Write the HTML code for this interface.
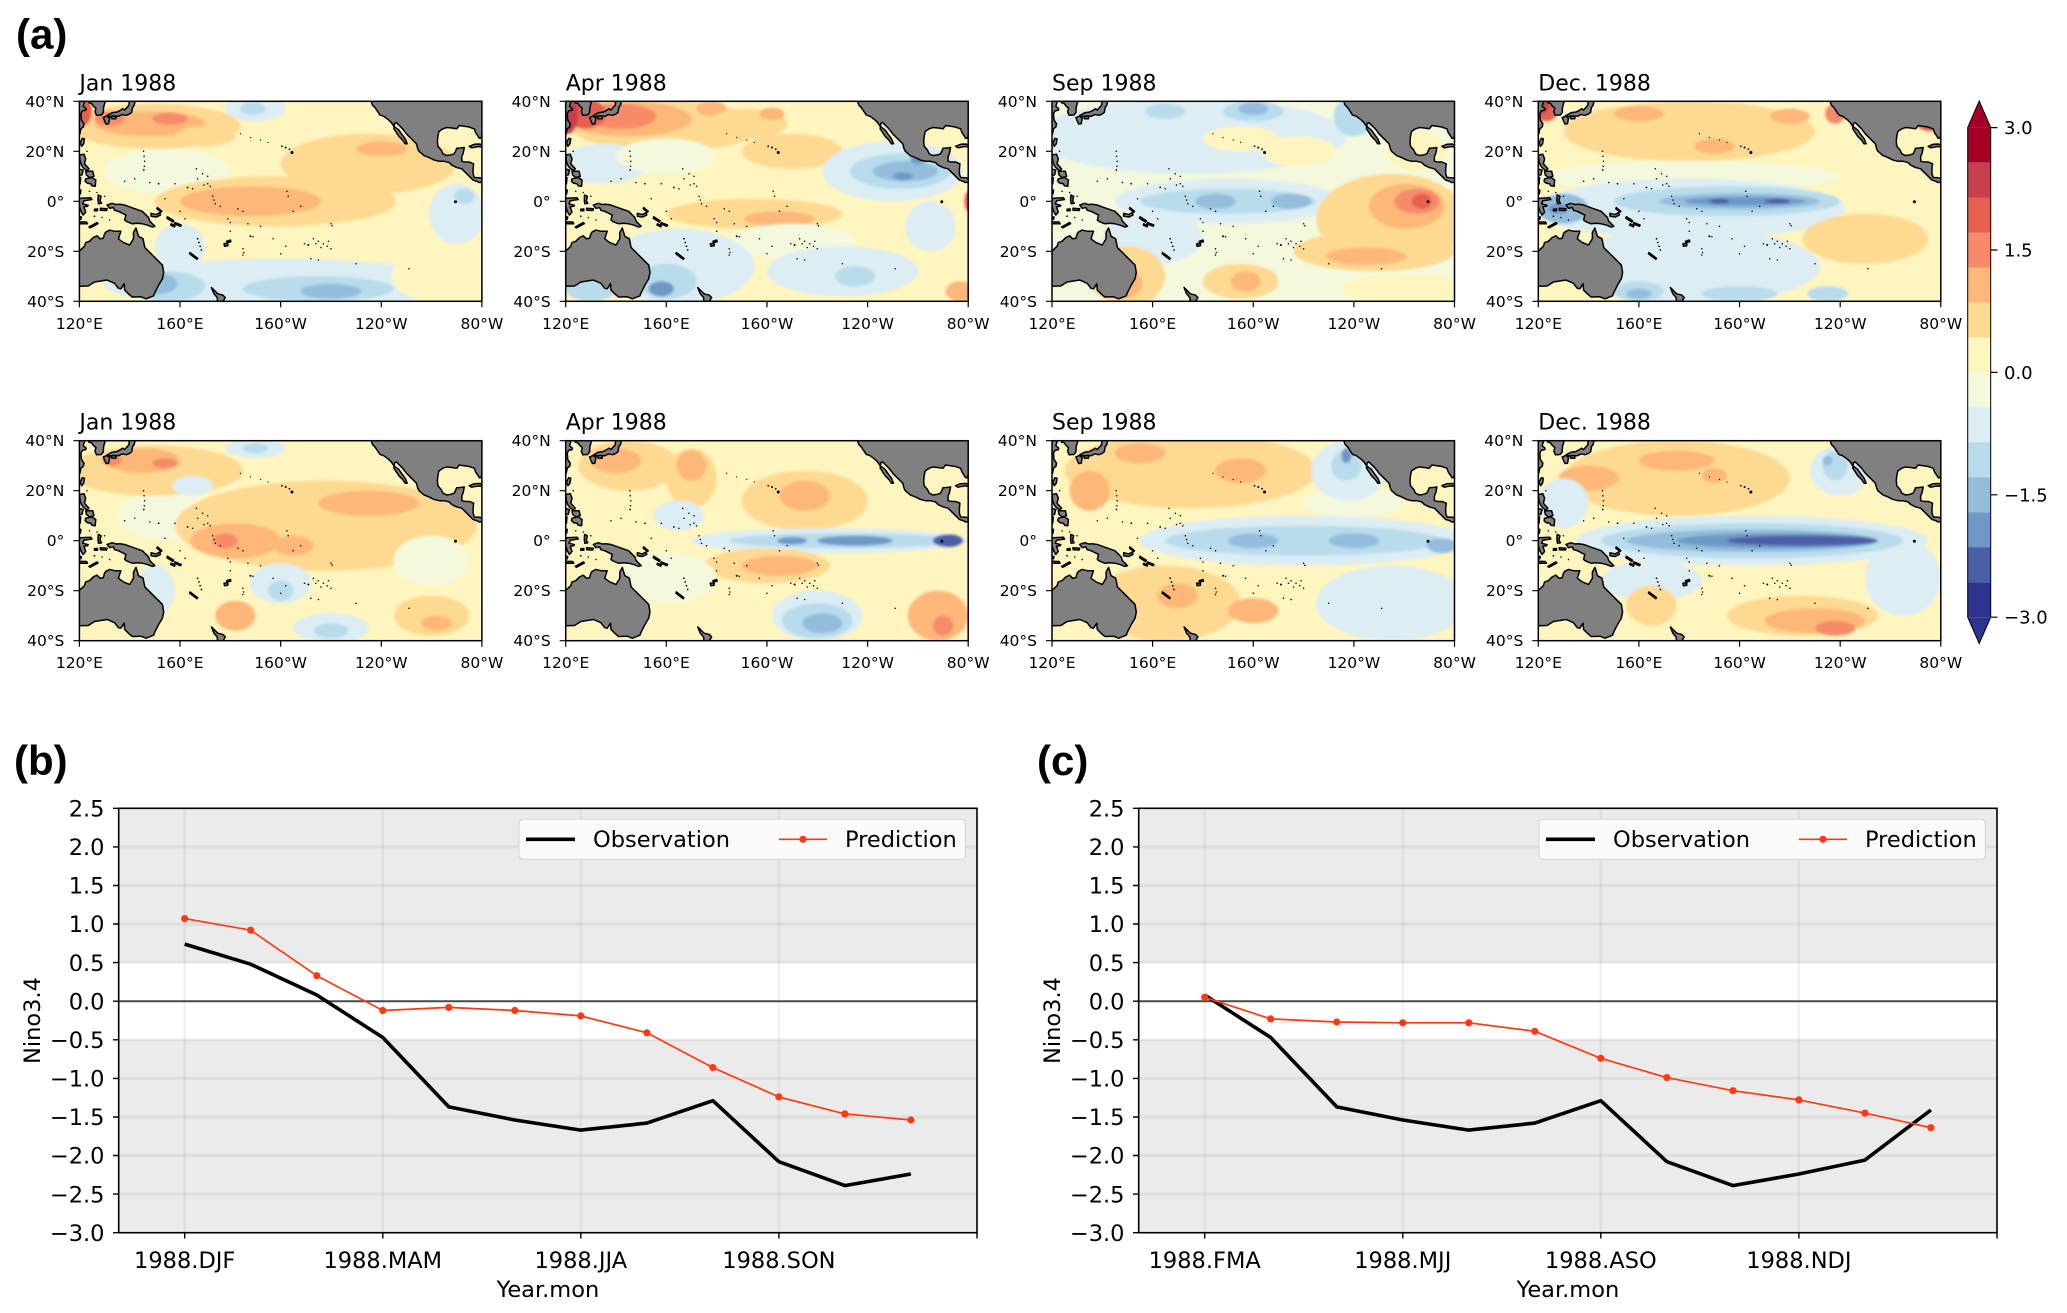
<!DOCTYPE html>
<html><head><meta charset="utf-8">
<style>
html,body{margin:0;padding:0;background:#fff;}
body{width:2067px;height:1313px;overflow:hidden;}
svg text{font-family:"DejaVu Sans","Liberation Sans",sans-serif;fill:#000;}
.r7{fill:#a50026}.r6{fill:#c8404f}.r5{fill:#e6604d}.r4{fill:#f78b69}.r3{fill:#fdb778}.r2{fill:#fed991}.r1{fill:#fff5bf}
.b1{fill:#f4f9dd}.b2{fill:#dcedf4}.b3{fill:#b8dcec}.b4{fill:#93bddb}.b5{fill:#6f98c6}.b6{fill:#4b5fa8}.b7{fill:#2f3390}
.tt{font-size:22px}
.lt{font-size:15.5px;text-anchor:end}
.lb{font-size:15.5px;text-anchor:middle}
.ytl{font-size:22.5px;text-anchor:end}
.xtl{font-size:22.5px;text-anchor:middle}
.lg{font-size:22.5px}
.pl{font-family:"Liberation Sans",sans-serif !important;font-weight:bold;font-size:42px}
.cb{font-size:18px}
</style></head>
<body>
<svg width="2067" height="1313" viewBox="0 0 2067 1313" xmlns="http://www.w3.org/2000/svg" style="position:absolute;left:0;top:0">
<defs>
<filter id="bl" x="-30%" y="-30%" width="160%" height="160%"><feGaussianBlur stdDeviation="0.5"/></filter>
<g id="land">
 <g fill="#808080" stroke="#000" stroke-width="0.6" stroke-linejoin="round">
  <path d="M-1,59.9 L0,59.9 L2,58 L2.5,56.5 L4,56 L5.5,54.5 L7,53.8 L8.2,55 L9.5,54.8 L10,53 L10.5,52.3 L12,51.5 L14,52 L16.5,52 L16,53.5 L15.5,55 L17.5,56.5 L20,57.5 L21.5,55 L21.5,52.5 L22.5,50.7 L23.5,54 L25.3,55 L26,58.5 L29,61.5 L31,63.5 L33,65.5 L33.5,68.5 L33,71 L31.5,73.5 L30,76.5 L29.5,77.8 L26.5,79 L24.5,78.2 L21,78.3 L19.5,77 L18,75.5 L17.8,73 L16.5,75 L15.5,74.8 L14,72.8 L11,71.5 L6,72.3 L3.5,73.9 L0,74 L-1,74 Z"/>
  <path d="M11,41.5 L13,40.8 L14.5,41.3 L16,41.2 L18,41.5 L21,42.6 L23,43.3 L25,44 L26.5,45.5 L27.5,46.5 L28,48 L30,50 L29,50.3 L27,49.5 L25,49 L23,48.8 L21,49 L19,48.2 L18,47.5 L18.5,45.5 L17.5,45 L15.5,44 L14,43.6 L13.5,42.5 L12,42.8 Z"/>
  <path d="M28.5,44.8 L30.5,45.3 L32,44.5 L32.2,45.5 L30.5,46.3 L28.5,46 Z"/>
  <path d="M31,42.5 L32.8,44 L32.5,44.3 L30.8,43 Z"/>
  <path d="M35,46.2 L37.5,47.8 L37.2,48.3 L34.8,46.8 Z"/>
  <path d="M38,48.5 L40.5,49.5 L40.2,50 L37.8,49 Z"/>
  <path d="M36.5,49 L38,49.8 L37.8,50.2 L36.3,49.5 Z"/>
  <path d="M44,60.5 L47,62.8 L46.7,63.2 L43.8,61 Z"/>
  <path d="M57.5,57 L59,56.8 L59,57.8 L57.7,58 Z"/>
  <path d="M58.5,56 L60,55.5 L60.2,56.2 L58.8,56.5 Z"/>
  <path d="M52.5,74.5 L54,76 L55,77 L57,77.5 L58,78.5 L56.5,81 L55,81 L54.8,78.5 L53.5,77 Z"/>
  <path d="M0,21.5 L1.8,21.2 L2.5,23 L2,25 L3.8,27 L3,27.8 L1.5,26.5 L0.8,25.5 L0.3,24 Z"/>
  <path d="M2.5,28 L5.3,28 L5.8,30 L4,30.5 L2.8,29.5 Z"/>
  <path d="M-0.5,27 L1.5,27.5 L1,29.5 L-0.5,29.5 Z"/>
  <path d="M2.5,31 L5,30.5 L6.5,31.5 L6.3,34 L5,33.8 L4.5,33 L3.2,32.8 L2.3,32 Z"/>
  <path d="M-1,40 L0.5,38.8 L4.5,38.6 L5,39.3 L1.8,39.8 L1.3,41 L3.5,41.6 L3.2,42 L1.8,42.2 L2.5,44.3 L1.5,45.5 L0.6,44 L0.2,42.5 L-0.5,44.5 L-1,45 Z"/>
  <path d="M7.5,37.5 L8.6,38 L8.2,39.8 L8.8,40.8 L7.6,41 L7.4,39.5 Z"/>
  <path d="M6,43.2 L7.2,43.1 L7.2,43.8 L6,43.8 Z"/>
  <path d="M8.3,42.8 L11,43 L10.8,43.7 L8.4,43.6 Z"/>
  <path d="M-1,48.2 L2.8,48.3 L3.2,49 L-1,49 Z"/>
  <path d="M3.8,50.3 L7,48.5 L7.4,48.9 L4.3,50.6 Z"/>
  <path d="M1.2,14.8 L2,15 L1.7,17 L0.9,18 L0.3,16.5 Z"/>
  <path d="M-1,30 L0.5,30.5 L0.3,33 L-1,34 Z"/>
  <path d="M-1,35 L0.6,35.5 L0.4,37 L-1,37.5 Z"/>
  <path d="M-1,46 L0.8,46.3 L0.6,47.2 L-1,47.4 Z"/>
  <path d="M-1,-1 L1.8,-1 L2,0.5 L1.5,2 L2.7,3 L2.5,3.6 L1.2,3.8 L0.6,5 L0.8,7.5 L1.8,9 L1.6,10.2 L0.6,11 L0.2,13 L-1,14 Z"/>
  <path d="M3.5,-1 L10.5,-1 L10,1 L9.6,2.5 L9.5,4.5 L8.7,5.5 L6.8,5.6 L6.2,4.2 L6.6,2.8 L5.5,1.8 L4.8,0.8 L3.8,0.6 Z"/>
  <path d="M9.5,6.5 L11,5.9 L12,6.8 L11.6,9 L10.6,9.1 L10.1,8 Z"/>
  <path d="M12.6,6.2 L14.6,5.7 L14.5,7 L12.9,7 Z"/>
  <path d="M11,5.7 L13,4.6 L15,4.3 L16.5,3.5 L17.2,3 L18,3.5 L19.7,1.6 L19.9,-1 L22.3,-1 L21.8,1.5 L21.1,2.5 L20.8,4.4 L19.9,5.1 L18.6,5.6 L17,5.3 L15.5,6 L13.6,5.9 L12,6.1 Z"/>
  <path d="M114.5,-1 L115.5,-1 L116,0 L116.5,1.5 L117.5,2.5 L118.5,4 L119.5,5.5 L121,6 L123,7.5 L124,8.5 L125,10 L127,11.5 L128,13 L129.5,15 L130.3,17 L129.5,17 L128.5,15.5 L127,14 L125.7,12 L125,11 L125.3,8.8 L126,8.5 L127,9.5 L128.5,11 L130,13 L131,14 L132.5,15.5 L134,17 L134.5,19 L135,20 L137,21.7 L139,22.5 L141,23.5 L143,24 L145,24 L147,24.5 L148,25.5 L150,26.5 L152,27 L153.5,28.5 L154.5,29.5 L155,30 L156.5,31.5 L158,32 L159,32.5 L161,32.3 L161,31 L159,30.6 L157,30.5 L156.5,29 L156.5,27 L156.7,25 L155,24.3 L153.5,24.3 L152,24 L152,22 L152.5,21 L153,18.5 L151.5,18.7 L150,18.8 L149.5,20 L149,21 L147.5,21.5 L146,21.7 L144.5,21 L143.8,19.5 L142.5,18 L142.3,16 L142.5,14 L142.8,12.5 L143,12 L144.5,11 L146,10.5 L148,10.7 L150,11 L151,9.7 L153,10 L155,10.3 L156,10.7 L157,11 L157.5,12.5 L158.5,14 L159,14.8 L159.7,14.8 L160,13.5 L161,13 L161,-1 Z"/>
  <path d="M155,18 L157,17.2 L159,17.1 L161,17.6 L161,18.3 L158.5,18.1 L156,18.6 Z"/>
 </g>
 <g fill="#000">
  <circle cx="149.5" cy="40.2" r="0.6"/><circle cx="80.5" cy="18" r="0.35"/><circle cx="82" cy="18.5" r="0.4"/><circle cx="83.5" cy="19.2" r="0.35"/><circle cx="84.5" cy="20.5" r="0.6"/>
  <circle cx="75" cy="16.5" r="0.25"/><circle cx="72" cy="15.5" r="0.25"/><circle cx="68" cy="14.5" r="0.25"/><circle cx="64" cy="13" r="0.25"/>
  <circle cx="25.5" cy="20" r="0.3"/><circle cx="25.7" cy="22" r="0.3"/><circle cx="25.9" cy="24" r="0.3"/><circle cx="25.8" cy="26" r="0.3"/><circle cx="25.6" cy="27.5" r="0.35"/>
  <circle cx="18" cy="32" r="0.3"/><circle cx="22" cy="31" r="0.3"/><circle cx="28" cy="32.5" r="0.3"/><circle cx="31.5" cy="33" r="0.35"/><circle cx="38" cy="33" r="0.3"/><circle cx="43" cy="34.5" r="0.35"/><circle cx="45" cy="35" r="0.3"/>
  <circle cx="47" cy="31" r="0.3"/><circle cx="49" cy="29" r="0.3"/><circle cx="51" cy="30" r="0.3"/><circle cx="51" cy="33" r="0.3"/><circle cx="52" cy="34" r="0.3"/><circle cx="49.5" cy="33.5" r="0.3"/><circle cx="46.5" cy="27" r="0.3"/>
  <circle cx="53" cy="38" r="0.3"/><circle cx="53.5" cy="39.5" r="0.3"/><circle cx="54" cy="41" r="0.3"/><circle cx="56" cy="42" r="0.3"/>
  <circle cx="59" cy="47" r="0.3"/><circle cx="60" cy="48.5" r="0.3"/><circle cx="68" cy="54" r="0.4"/><circle cx="69" cy="54.2" r="0.3"/><circle cx="67" cy="49" r="0.3"/>
  <circle cx="65" cy="59" r="0.3"/><circle cx="65.3" cy="60.5" r="0.3"/><circle cx="65" cy="61.5" r="0.3"/><circle cx="80" cy="61" r="0.3"/><circle cx="82" cy="58" r="0.3"/>
  <circle cx="91" cy="57.5" r="0.4"/><circle cx="89.5" cy="57" r="0.3"/>
  <circle cx="93" cy="55" r="0.3"/><circle cx="95" cy="56" r="0.3"/><circle cx="97" cy="57" r="0.3"/><circle cx="98.5" cy="58" r="0.3"/><circle cx="100" cy="59" r="0.3"/><circle cx="96" cy="58.5" r="0.3"/><circle cx="94" cy="57" r="0.3"/><circle cx="99" cy="56" r="0.3"/>
  <circle cx="100" cy="49" r="0.3"/><circle cx="100.5" cy="49.8" r="0.3"/><circle cx="83" cy="38" r="0.3"/><circle cx="82.5" cy="36" r="0.3"/><circle cx="85" cy="44" r="0.3"/><circle cx="88" cy="42" r="0.3"/>
  <circle cx="92" cy="63" r="0.3"/><circle cx="95" cy="63.5" r="0.3"/><circle cx="110" cy="65" r="0.3"/><circle cx="131" cy="67" r="0.3"/><circle cx="63" cy="43" r="0.3"/><circle cx="65" cy="44" r="0.3"/>
  <circle cx="47" cy="55" r="0.35"/><circle cx="47.5" cy="56.5" r="0.35"/><circle cx="48" cy="58" r="0.35"/><circle cx="48.5" cy="59.5" r="0.35"/>
  <circle cx="3" cy="20" r="0.3"/><circle cx="4" cy="36" r="0.3"/><circle cx="6" cy="46" r="0.35"/><circle cx="9" cy="46.5" r="0.3"/><circle cx="12" cy="47.5" r="0.3"/><circle cx="7" cy="36.5" r="0.3"/><circle cx="10" cy="38" r="0.3"/>
  <circle cx="40" cy="44" r="0.3"/><circle cx="42" cy="47" r="0.3"/><circle cx="34" cy="39" r="0.3"/><circle cx="60" cy="52" r="0.3"/><circle cx="72" cy="50" r="0.3"/><circle cx="77" cy="55" r="0.3"/>
 </g>
</g>
</defs>

<!-- panel labels -->
<text x="16" y="48.6" class="pl">(a)</text>
<text x="14" y="775" class="pl">(b)</text>
<text x="1037" y="775" class="pl">(c)</text>

<!-- ============ MAPS ============ -->
<!-- Map 1 -->
<g transform="translate(79.4,101.3)">
 <text x="0" y="-10.6" class="tt">Jan 1988</text>
 <svg width="402.5" height="200" viewBox="0 0 160 80" preserveAspectRatio="none">
  <rect x="-1" y="-1" width="162" height="82" class="r1"/>
  <g filter="url(#bl)">
   <ellipse class="b1" cx="35" cy="28" rx="25" ry="9"/>
   <ellipse class="r2" cx="30" cy="10" rx="34" ry="9"/>
   <ellipse class="r3" cx="28" cy="9" rx="22" ry="5"/>
   <ellipse class="r4" cx="12" cy="7" rx="6" ry="3"/>
   <ellipse class="r4" cx="36" cy="7" rx="7" ry="2.5"/>
   <ellipse class="r5" cx="1" cy="4" rx="4" ry="6"/>
   <ellipse class="r2" cx="50" cy="14" rx="12" ry="4"/>
   <ellipse class="b2" cx="70" cy="3" rx="12" ry="5"/>
   <ellipse class="b3" cx="69" cy="3" rx="5" ry="2.5"/>
   <ellipse class="r2" cx="115" cy="25" rx="35" ry="12"/>
   <ellipse class="r3" cx="120" cy="19" rx="10" ry="3"/>
   <ellipse class="r2" cx="78" cy="40" rx="48" ry="10"/>
   <ellipse class="r3" cx="68" cy="40" rx="28" ry="6"/>
   <ellipse class="b2" cx="150" cy="45" rx="11" ry="12"/>
   <ellipse class="b3" cx="153" cy="38" rx="4" ry="3"/>
   <ellipse class="b2" cx="80" cy="73" rx="70" ry="10"/>
   <ellipse class="b2" cx="40" cy="58" rx="10" ry="9"/>
   <ellipse class="b3" cx="95" cy="75" rx="30" ry="5"/>
   <ellipse class="b3" cx="35" cy="74" rx="15" ry="6"/>
   <ellipse class="b4" cx="32" cy="73" rx="7" ry="4"/>
   <ellipse class="b4" cx="100" cy="76" rx="12" ry="3"/>
   <ellipse class="r1" cx="142" cy="70" rx="18" ry="10"/>
  </g>
  <use href="#land"/>
 </svg>
 <rect width="402.5" height="200" fill="none" stroke="#000" stroke-width="1.5"/>
 <path d="M-6,0H0M-6,50H0M-6,100H0M-6,150H0M-6,200H0M0,200V206M100.6,200V206M201.25,200V206M301.9,200V206M402.5,200V206" stroke="#000" stroke-width="1.2"/>
 <text x="-15" y="5.5" class="lt">40°N</text><text x="-15" y="55.5" class="lt">20°N</text><text x="-15" y="105.5" class="lt">0°</text><text x="-15" y="155.5" class="lt">20°S</text><text x="-15" y="205.5" class="lt">40°S</text>
 <text x="0" y="227.5" class="lb">120°E</text><text x="100.6" y="227.5" class="lb">160°E</text><text x="201.25" y="227.5" class="lb">160°W</text><text x="301.9" y="227.5" class="lb">120°W</text><text x="402.5" y="227.5" class="lb">80°W</text>
</g>

<!-- Map 2 -->
<g transform="translate(565.7,101.3)">
 <text x="0" y="-10.6" class="tt">Apr 1988</text>
 <svg width="402.5" height="200" viewBox="0 0 160 80" preserveAspectRatio="none">
  <rect x="-1" y="-1" width="162" height="82" class="r1"/>
  <g filter="url(#bl)">
   <ellipse class="r2" cx="40" cy="10" rx="38" ry="10"/>
   <ellipse class="r3" cx="25" cy="7" rx="25" ry="7"/>
   <ellipse class="r4" cx="22" cy="6" rx="14" ry="5"/>
   <ellipse class="r5" cx="8" cy="5" rx="8" ry="6"/>
   <ellipse class="r6" cx="1" cy="5" rx="4" ry="8"/>
   <ellipse class="r3" cx="58" cy="3" rx="6" ry="3"/>
   <ellipse class="r2" cx="72" cy="9" rx="16" ry="6"/>
   <ellipse class="r3" cx="82" cy="5" rx="5" ry="2.5"/>
   <ellipse class="r2" cx="90" cy="20" rx="20" ry="7"/>
   <ellipse class="b2" cx="15" cy="25" rx="18" ry="8"/>
   <ellipse class="b1" cx="40" cy="22" rx="20" ry="7"/>
   <ellipse class="b2" cx="130" cy="28" rx="28" ry="12"/>
   <ellipse class="b3" cx="133" cy="28" rx="20" ry="7"/>
   <ellipse class="b4" cx="135" cy="28" rx="13" ry="4"/>
   <ellipse class="b5" cx="140" cy="23" rx="3" ry="2"/>
   <ellipse class="b5" cx="134" cy="30" rx="4" ry="1.5"/>
   <ellipse class="r2" cx="75" cy="45" rx="35" ry="6"/>
   <ellipse class="r3" cx="85" cy="47" rx="14" ry="3"/>
   <ellipse class="b1" cx="90" cy="56" rx="25" ry="7"/>
   <ellipse class="b2" cx="45" cy="66" rx="30" ry="15"/>
   <ellipse class="b3" cx="40" cy="72" rx="12" ry="7"/>
   <ellipse class="b5" cx="38" cy="75" rx="5" ry="3"/>
   <ellipse class="b3" cx="10" cy="75" rx="10" ry="5"/>
   <ellipse class="b2" cx="110" cy="68" rx="30" ry="10"/>
   <ellipse class="b3" cx="115" cy="70" rx="8" ry="4"/>
   <ellipse class="b2" cx="145" cy="50" rx="10" ry="10"/>
   <ellipse class="r3" cx="157" cy="76" rx="6" ry="4"/>
   <ellipse class="r5" cx="160" cy="40" rx="1.5" ry="4"/>
  </g>
  <use href="#land"/>
 </svg>
 <rect width="402.5" height="200" fill="none" stroke="#000" stroke-width="1.5"/>
 <path d="M-6,0H0M-6,50H0M-6,100H0M-6,150H0M-6,200H0M0,200V206M100.6,200V206M201.25,200V206M301.9,200V206M402.5,200V206" stroke="#000" stroke-width="1.2"/>
 <text x="-15" y="5.5" class="lt">40°N</text><text x="-15" y="55.5" class="lt">20°N</text><text x="-15" y="105.5" class="lt">0°</text><text x="-15" y="155.5" class="lt">20°S</text><text x="-15" y="205.5" class="lt">40°S</text>
 <text x="0" y="227.5" class="lb">120°E</text><text x="100.6" y="227.5" class="lb">160°E</text><text x="201.25" y="227.5" class="lb">160°W</text><text x="301.9" y="227.5" class="lb">120°W</text><text x="402.5" y="227.5" class="lb">80°W</text>
</g>

<!-- Map 3 -->
<g transform="translate(1052,101.3)">
 <text x="0" y="-10.6" class="tt">Sep 1988</text>
 <svg width="402.5" height="200" viewBox="0 0 160 80" preserveAspectRatio="none">
  <rect x="-1" y="-1" width="162" height="82" class="b1"/>
  <g filter="url(#bl)">
   <ellipse class="b2" cx="55" cy="14" rx="62" ry="15"/>
   <ellipse class="b3" cx="45" cy="4" rx="8" ry="3"/>
   <ellipse class="b3" cx="80" cy="4" rx="12" ry="4"/>
   <ellipse class="b4" cx="80" cy="3" rx="6" ry="2.5"/>
   <ellipse class="r1" cx="75" cy="15" rx="15" ry="5"/>
   <ellipse class="r1" cx="98" cy="20" rx="15" ry="6"/>
   <ellipse class="b3" cx="120" cy="6" rx="8" ry="8"/>
   <ellipse class="r1" cx="145" cy="20" rx="12" ry="8"/>
   <ellipse class="b2" cx="70" cy="40" rx="45" ry="9"/>
   <ellipse class="b3" cx="70" cy="40" rx="35" ry="5"/>
   <ellipse class="b4" cx="65" cy="40" rx="8" ry="3"/>
   <ellipse class="b4" cx="95" cy="40" rx="8" ry="3"/>
   <ellipse class="r2" cx="135" cy="47" rx="30" ry="18"/>
   <ellipse class="r3" cx="141" cy="42" rx="15" ry="9"/>
   <ellipse class="r4" cx="145" cy="40" rx="9" ry="5"/>
   <ellipse class="r5" cx="147" cy="40" rx="4" ry="3"/>
   <ellipse class="r2" cx="128" cy="60" rx="32" ry="8"/>
   <ellipse class="r3" cx="125" cy="62" rx="16" ry="3.5"/>
   <ellipse class="b2" cx="40" cy="55" rx="20" ry="10"/>
   <ellipse class="r2" cx="30" cy="70" rx="15" ry="12"/>
   <ellipse class="r3" cx="28" cy="73" rx="8" ry="6"/>
   <ellipse class="r2" cx="75" cy="72" rx="15" ry="7"/>
   <ellipse class="r3" cx="77" cy="72" rx="6" ry="4"/>
   <ellipse class="r1" cx="140" cy="75" rx="25" ry="6"/>
  </g>
  <use href="#land"/>
 </svg>
 <rect width="402.5" height="200" fill="none" stroke="#000" stroke-width="1.5"/>
 <path d="M-6,0H0M-6,50H0M-6,100H0M-6,150H0M-6,200H0M0,200V206M100.6,200V206M201.25,200V206M301.9,200V206M402.5,200V206" stroke="#000" stroke-width="1.2"/>
 <text x="-15" y="5.5" class="lt">40°N</text><text x="-15" y="55.5" class="lt">20°N</text><text x="-15" y="105.5" class="lt">0°</text><text x="-15" y="155.5" class="lt">20°S</text><text x="-15" y="205.5" class="lt">40°S</text>
 <text x="0" y="227.5" class="lb">120°E</text><text x="100.6" y="227.5" class="lb">160°E</text><text x="201.25" y="227.5" class="lb">160°W</text><text x="301.9" y="227.5" class="lb">120°W</text><text x="402.5" y="227.5" class="lb">80°W</text>
</g>

<!-- Map 4 -->
<g transform="translate(1538.3,101.3)">
 <text x="0" y="-10.6" class="tt">Dec. 1988</text>
 <svg width="402.5" height="200" viewBox="0 0 160 80" preserveAspectRatio="none">
  <rect x="-1" y="-1" width="162" height="82" class="r1"/>
  <g filter="url(#bl)">
   <ellipse class="r2" cx="60" cy="12" rx="50" ry="12"/>
   <ellipse class="r3" cx="40" cy="5" rx="10" ry="3"/>
   <ellipse class="r3" cx="70" cy="18" rx="8" ry="3"/>
   <ellipse class="r3" cx="100" cy="6" rx="8" ry="3"/>
   <ellipse class="r5" cx="3" cy="3" rx="5" ry="5"/>
   <ellipse class="r6" cx="1" cy="2" rx="3" ry="3"/>
   <ellipse class="r5" cx="156" cy="8" rx="6" ry="4"/>
   <ellipse class="r4" cx="118" cy="5" rx="4" ry="4"/>
   <ellipse class="b1" cx="60" cy="30" rx="60" ry="6"/>
   <ellipse class="b2" cx="60" cy="43" rx="62" ry="12"/>
   <ellipse class="b3" cx="75" cy="40" rx="45" ry="6"/>
   <ellipse class="b4" cx="80" cy="40" rx="32" ry="3.2"/>
   <ellipse class="b5" cx="82" cy="40" rx="24" ry="1.8"/>
   <ellipse class="b6" cx="72" cy="40" rx="4" ry="1"/>
   <ellipse class="b6" cx="95" cy="40" rx="5" ry="1"/>
   <ellipse class="b4" cx="10" cy="43" rx="10" ry="6"/>
   <ellipse class="b5" cx="8" cy="43" rx="4" ry="2"/>
   <ellipse class="b2" cx="60" cy="66" rx="52" ry="15"/>
   <ellipse class="b3" cx="40" cy="76" rx="10" ry="4"/>
   <ellipse class="b4" cx="40" cy="77" rx="5" ry="2"/>
   <ellipse class="b3" cx="80" cy="77" rx="15" ry="3"/>
   <ellipse class="b3" cx="115" cy="77" rx="8" ry="3"/>
   <ellipse class="r2" cx="130" cy="55" rx="25" ry="10"/>
  </g>
  <use href="#land"/>
 </svg>
 <rect width="402.5" height="200" fill="none" stroke="#000" stroke-width="1.5"/>
 <path d="M-6,0H0M-6,50H0M-6,100H0M-6,150H0M-6,200H0M0,200V206M100.6,200V206M201.25,200V206M301.9,200V206M402.5,200V206" stroke="#000" stroke-width="1.2"/>
 <text x="-15" y="5.5" class="lt">40°N</text><text x="-15" y="55.5" class="lt">20°N</text><text x="-15" y="105.5" class="lt">0°</text><text x="-15" y="155.5" class="lt">20°S</text><text x="-15" y="205.5" class="lt">40°S</text>
 <text x="0" y="227.5" class="lb">120°E</text><text x="100.6" y="227.5" class="lb">160°E</text><text x="201.25" y="227.5" class="lb">160°W</text><text x="301.9" y="227.5" class="lb">120°W</text><text x="402.5" y="227.5" class="lb">80°W</text>
</g>

<!-- Map 5 -->
<g transform="translate(79.4,440.7)">
 <text x="0" y="-11.4" class="tt">Jan 1988</text>
 <svg width="402.5" height="200" viewBox="0 0 160 80" preserveAspectRatio="none">
  <rect x="-1" y="-1" width="162" height="82" class="r1"/>
  <g filter="url(#bl)">
   <ellipse class="b1" cx="35" cy="30" rx="20" ry="10"/>
   <ellipse class="r2" cx="30" cy="12" rx="35" ry="10"/>
   <ellipse class="r3" cx="25" cy="8" rx="15" ry="5"/>
   <ellipse class="r4" cx="13" cy="8" rx="4" ry="2"/>
   <ellipse class="r4" cx="34" cy="9" rx="5" ry="2"/>
   <ellipse class="b2" cx="70" cy="3" rx="12" ry="4"/>
   <ellipse class="b3" cx="70" cy="3" rx="5" ry="2"/>
   <ellipse class="b2" cx="45" cy="18" rx="8" ry="4"/>
   <ellipse class="r2" cx="98" cy="34" rx="60" ry="18"/>
   <ellipse class="r3" cx="62" cy="40" rx="18" ry="7"/>
   <ellipse class="r4" cx="58" cy="40" rx="5" ry="3"/>
   <ellipse class="r3" cx="115" cy="25" rx="20" ry="5"/>
   <ellipse class="r3" cx="85" cy="42" rx="8" ry="4"/>
   <ellipse class="b1" cx="140" cy="48" rx="15" ry="10"/>
   <ellipse class="b2" cx="30" cy="60" rx="8" ry="10"/>
   <ellipse class="b2" cx="80" cy="57" rx="12" ry="8"/>
   <ellipse class="b3" cx="80" cy="60" rx="5" ry="4"/>
   <ellipse class="b2" cx="100" cy="75" rx="15" ry="6"/>
   <ellipse class="b3" cx="100" cy="76" rx="7" ry="3"/>
   <ellipse class="r3" cx="62" cy="70" rx="8" ry="6"/>
   <ellipse class="r2" cx="140" cy="70" rx="15" ry="8"/>
   <ellipse class="r3" cx="142" cy="73" rx="6" ry="3"/>
  </g>
  <use href="#land"/>
 </svg>
 <rect width="402.5" height="200" fill="none" stroke="#000" stroke-width="1.5"/>
 <path d="M-6,0H0M-6,50H0M-6,100H0M-6,150H0M-6,200H0M0,200V206M100.6,200V206M201.25,200V206M301.9,200V206M402.5,200V206" stroke="#000" stroke-width="1.2"/>
 <text x="-15" y="5.5" class="lt">40°N</text><text x="-15" y="55.5" class="lt">20°N</text><text x="-15" y="105.5" class="lt">0°</text><text x="-15" y="155.5" class="lt">20°S</text><text x="-15" y="205.5" class="lt">40°S</text>
 <text x="0" y="227.5" class="lb">120°E</text><text x="100.6" y="227.5" class="lb">160°E</text><text x="201.25" y="227.5" class="lb">160°W</text><text x="301.9" y="227.5" class="lb">120°W</text><text x="402.5" y="227.5" class="lb">80°W</text>
</g>

<!-- Map 6 -->
<g transform="translate(565.7,440.7)">
 <text x="0" y="-11.4" class="tt">Apr 1988</text>
 <svg width="402.5" height="200" viewBox="0 0 160 80" preserveAspectRatio="none">
  <rect x="-1" y="-1" width="162" height="82" class="r1"/>
  <g filter="url(#bl)">
   <ellipse class="r2" cx="25" cy="10" rx="20" ry="10"/>
   <ellipse class="r3" cx="20" cy="8" rx="10" ry="5"/>
   <ellipse class="r2" cx="50" cy="15" rx="10" ry="12"/>
   <ellipse class="r3" cx="50" cy="10" rx="6" ry="6"/>
   <ellipse class="r2" cx="95" cy="24" rx="25" ry="12"/>
   <ellipse class="r3" cx="95" cy="22" rx="10" ry="6"/>
   <ellipse class="b2" cx="45" cy="30" rx="10" ry="6"/>
   <ellipse class="b2" cx="105" cy="40" rx="55" ry="5"/>
   <ellipse class="b3" cx="110" cy="40" rx="45" ry="3"/>
   <ellipse class="b5" cx="115" cy="40" rx="15" ry="2"/>
   <ellipse class="b5" cx="90" cy="40" rx="6" ry="1.5"/>
   <ellipse class="b6" cx="152" cy="40" rx="6" ry="2.5"/>
   <ellipse class="r2" cx="80" cy="50" rx="25" ry="7"/>
   <ellipse class="r3" cx="85" cy="50" rx="15" ry="4"/>
   <ellipse class="b1" cx="40" cy="55" rx="20" ry="10"/>
   <ellipse class="b2" cx="100" cy="70" rx="18" ry="10"/>
   <ellipse class="b3" cx="100" cy="72" rx="14" ry="7"/>
   <ellipse class="b4" cx="102" cy="73" rx="8" ry="4"/>
   <ellipse class="r3" cx="148" cy="70" rx="12" ry="10"/>
   <ellipse class="r4" cx="150" cy="74" rx="4" ry="4"/>
  </g>
  <use href="#land"/>
 </svg>
 <rect width="402.5" height="200" fill="none" stroke="#000" stroke-width="1.5"/>
 <path d="M-6,0H0M-6,50H0M-6,100H0M-6,150H0M-6,200H0M0,200V206M100.6,200V206M201.25,200V206M301.9,200V206M402.5,200V206" stroke="#000" stroke-width="1.2"/>
 <text x="-15" y="5.5" class="lt">40°N</text><text x="-15" y="55.5" class="lt">20°N</text><text x="-15" y="105.5" class="lt">0°</text><text x="-15" y="155.5" class="lt">20°S</text><text x="-15" y="205.5" class="lt">40°S</text>
 <text x="0" y="227.5" class="lb">120°E</text><text x="100.6" y="227.5" class="lb">160°E</text><text x="201.25" y="227.5" class="lb">160°W</text><text x="301.9" y="227.5" class="lb">120°W</text><text x="402.5" y="227.5" class="lb">80°W</text>
</g>

<!-- Map 7 -->
<g transform="translate(1052,440.7)">
 <text x="0" y="-11.4" class="tt">Sep 1988</text>
 <svg width="402.5" height="200" viewBox="0 0 160 80" preserveAspectRatio="none">
  <rect x="-1" y="-1" width="162" height="82" class="r1"/>
  <g filter="url(#bl)">
   <ellipse class="r2" cx="55" cy="12" rx="50" ry="15"/>
   <ellipse class="r3" cx="35" cy="5" rx="10" ry="4"/>
   <ellipse class="r3" cx="75" cy="12" rx="10" ry="5"/>
   <ellipse class="r3" cx="15" cy="20" rx="8" ry="8"/>
   <ellipse class="b1" cx="120" cy="25" rx="20" ry="6"/>
   <ellipse class="b2" cx="118" cy="12" rx="15" ry="12"/>
   <ellipse class="b3" cx="117" cy="10" rx="6" ry="6"/>
   <ellipse class="b5" cx="117" cy="6" rx="2" ry="3"/>
   <ellipse class="b2" cx="100" cy="40" rx="65" ry="10"/>
   <ellipse class="b3" cx="100" cy="40" rx="55" ry="6"/>
   <ellipse class="b4" cx="80" cy="40" rx="10" ry="3"/>
   <ellipse class="b4" cx="120" cy="40" rx="10" ry="3"/>
   <ellipse class="b4" cx="155" cy="42" rx="6" ry="3"/>
   <ellipse class="r2" cx="45" cy="65" rx="30" ry="15"/>
   <ellipse class="r3" cx="50" cy="62" rx="8" ry="5"/>
   <ellipse class="r3" cx="80" cy="68" rx="10" ry="5"/>
   <ellipse class="b2" cx="135" cy="65" rx="30" ry="15"/>
  </g>
  <use href="#land"/>
 </svg>
 <rect width="402.5" height="200" fill="none" stroke="#000" stroke-width="1.5"/>
 <path d="M-6,0H0M-6,50H0M-6,100H0M-6,150H0M-6,200H0M0,200V206M100.6,200V206M201.25,200V206M301.9,200V206M402.5,200V206" stroke="#000" stroke-width="1.2"/>
 <text x="-15" y="5.5" class="lt">40°N</text><text x="-15" y="55.5" class="lt">20°N</text><text x="-15" y="105.5" class="lt">0°</text><text x="-15" y="155.5" class="lt">20°S</text><text x="-15" y="205.5" class="lt">40°S</text>
 <text x="0" y="227.5" class="lb">120°E</text><text x="100.6" y="227.5" class="lb">160°E</text><text x="201.25" y="227.5" class="lb">160°W</text><text x="301.9" y="227.5" class="lb">120°W</text><text x="402.5" y="227.5" class="lb">80°W</text>
</g>

<!-- Map 8 -->
<g transform="translate(1538.3,440.7)">
 <text x="0" y="-11.4" class="tt">Dec. 1988</text>
 <svg width="402.5" height="200" viewBox="0 0 160 80" preserveAspectRatio="none">
  <rect x="-1" y="-1" width="162" height="82" class="r1"/>
  <g filter="url(#bl)">
   <ellipse class="r2" cx="55" cy="15" rx="45" ry="15"/>
   <ellipse class="r3" cx="20" cy="15" rx="12" ry="5"/>
   <ellipse class="r3" cx="55" cy="8" rx="15" ry="4"/>
   <ellipse class="r3" cx="70" cy="14" rx="5" ry="3"/>
   <ellipse class="b2" cx="10" cy="25" rx="10" ry="10"/>
   <ellipse class="b2" cx="120" cy="12" rx="12" ry="10"/>
   <ellipse class="b3" cx="118" cy="10" rx="5" ry="6"/>
   <ellipse class="b4" cx="115" cy="8" rx="2" ry="2"/>
   <ellipse class="b2" cx="145" cy="55" rx="15" ry="15"/>
   <ellipse class="b2" cx="85" cy="40" rx="70" ry="10"/>
   <ellipse class="b3" cx="85" cy="40" rx="60" ry="7"/>
   <ellipse class="b4" cx="85" cy="40" rx="50" ry="4.5"/>
   <ellipse class="b5" cx="95" cy="40" rx="40" ry="3"/>
   <ellipse class="b6" cx="105" cy="40" rx="30" ry="2"/>
   <ellipse class="b6" cx="125" cy="40" rx="8" ry="1.5"/>
   <ellipse class="b2" cx="45" cy="56" rx="20" ry="8"/>
   <ellipse class="r2" cx="45" cy="66" rx="10" ry="8"/>
   <ellipse class="r2" cx="105" cy="70" rx="30" ry="8"/>
   <ellipse class="r3" cx="110" cy="72" rx="20" ry="5"/>
   <ellipse class="r4" cx="118" cy="75" rx="8" ry="3"/>
  </g>
  <use href="#land"/>
 </svg>
 <rect width="402.5" height="200" fill="none" stroke="#000" stroke-width="1.5"/>
 <path d="M-6,0H0M-6,50H0M-6,100H0M-6,150H0M-6,200H0M0,200V206M100.6,200V206M201.25,200V206M301.9,200V206M402.5,200V206" stroke="#000" stroke-width="1.2"/>
 <text x="-15" y="5.5" class="lt">40°N</text><text x="-15" y="55.5" class="lt">20°N</text><text x="-15" y="105.5" class="lt">0°</text><text x="-15" y="155.5" class="lt">20°S</text><text x="-15" y="205.5" class="lt">40°S</text>
 <text x="0" y="227.5" class="lb">120°E</text><text x="100.6" y="227.5" class="lb">160°E</text><text x="201.25" y="227.5" class="lb">160°W</text><text x="301.9" y="227.5" class="lb">120°W</text><text x="402.5" y="227.5" class="lb">80°W</text>
</g>

<!-- ============ COLORBAR ============ -->
<g>
 <polygon points="1967.7,127.6 1990.7,127.6 1979.2,101" class="r7"/>
 <rect x="1967.7" y="127.6" width="23" height="35" class="r7"/>
 <rect x="1967.7" y="162.6" width="23" height="35" class="r6"/>
 <rect x="1967.7" y="197.5" width="23" height="35" class="r5"/>
 <rect x="1967.7" y="232.5" width="23" height="35" class="r4"/>
 <rect x="1967.7" y="267.5" width="23" height="35" class="r3"/>
 <rect x="1967.7" y="302.4" width="23" height="35" class="r2"/>
 <rect x="1967.7" y="337.4" width="23" height="35" class="r1"/>
 <rect x="1967.7" y="372.4" width="23" height="35" class="b1"/>
 <rect x="1967.7" y="407.4" width="23" height="35" class="b2"/>
 <rect x="1967.7" y="442.3" width="23" height="35" class="b3"/>
 <rect x="1967.7" y="477.3" width="23" height="35" class="b4"/>
 <rect x="1967.7" y="512.3" width="23" height="35" class="b5"/>
 <rect x="1967.7" y="547.2" width="23" height="35" class="b6"/>
 <rect x="1967.7" y="582.2" width="23" height="35" class="b7"/>
 <polygon points="1967.7,617.2 1990.7,617.2 1979.2,643.5" class="b7"/>
 <polygon points="1979.2,101 1990.7,127.6 1990.7,617.2 1979.2,643.5 1967.7,617.2 1967.7,127.6" fill="none" stroke="#000" stroke-width="1"/>
 <path d="M1990.7,127.6H1997.5M1990.7,250H1997.5M1990.7,372.4H1997.5M1990.7,494.8H1997.5M1990.7,617.2H1997.5" stroke="#000" stroke-width="1.2"/>
 <text x="2004" y="134.1" class="cb">3.0</text>
 <text x="2004" y="256.5" class="cb">1.5</text>
 <text x="2004" y="378.9" class="cb">0.0</text>
 <text x="2004" y="501.3" class="cb">−1.5</text>
 <text x="2004" y="623.7" class="cb">−3.0</text>
</g>

<!-- ============ PANEL B ============ -->
<g>
 <rect x="118.7" y="808.3" width="858.3" height="154.3" fill="#ebebeb"/>
 <rect x="118.7" y="1039.8" width="858.3" height="192.9" fill="#ebebeb"/>
 <path d="M118.7,846.9H977M118.7,885.5H977M118.7,924H977M118.7,962.6H977M118.7,1039.8H977M118.7,1078.4H977M118.7,1117H977M118.7,1155.5H977M118.7,1194.1H977" stroke="#000" stroke-opacity="0.055" stroke-width="3"/>
 <path d="M184.7,808.3V1232.7M382.8,808.3V1232.7M580.8,808.3V1232.7M778.9,808.3V1232.7" stroke="#000" stroke-opacity="0.05" stroke-width="2.5"/>
 <path d="M118.7,1001.2H977" stroke="#4a4a4a" stroke-width="2"/>
 <polyline points="184.7,944.1 250.7,964.2 316.8,995 382.8,1037.5 448.8,1106.9 514.8,1120 580.8,1130.1 646.9,1123.1 712.9,1100.7 778.9,1161.7 844.9,1185.6 910.9,1174" fill="none" stroke="#000" stroke-width="3.6" stroke-linejoin="round"/>
 <polyline points="184.7,918.6 250.7,930.2 316.8,975.7 382.8,1010.5 448.8,1007.4 514.8,1010.5 580.8,1015.9 646.9,1032.8 712.9,1067.6 778.9,1096.9 844.9,1113.9 910.9,1120" fill="none" stroke="#ff3a12" stroke-width="1.7" stroke-linejoin="round"/>
 <g fill="#ff3a12">
  <circle cx="184.7" cy="918.6" r="3.6"/><circle cx="250.7" cy="930.2" r="3.6"/><circle cx="316.8" cy="975.7" r="3.6"/><circle cx="382.8" cy="1010.5" r="3.6"/><circle cx="448.8" cy="1007.4" r="3.6"/><circle cx="514.8" cy="1010.5" r="3.6"/><circle cx="580.8" cy="1015.9" r="3.6"/><circle cx="646.9" cy="1032.8" r="3.6"/><circle cx="712.9" cy="1067.6" r="3.6"/><circle cx="778.9" cy="1096.9" r="3.6"/><circle cx="844.9" cy="1113.9" r="3.6"/><circle cx="910.9" cy="1120" r="3.6"/>
 </g>
 <rect x="118.7" y="808.3" width="858.3" height="424.4" fill="none" stroke="#000" stroke-width="1.6"/>
 <path d="M113,808.3H118.7M113,846.9H118.7M113,885.5H118.7M113,924H118.7M113,962.6H118.7M113,1001.2H118.7M113,1039.8H118.7M113,1078.4H118.7M113,1117H118.7M113,1155.5H118.7M113,1194.1H118.7M113,1232.7H118.7M184.7,1232.7V1238.5M382.8,1232.7V1238.5M580.8,1232.7V1238.5M778.9,1232.7V1238.5M977,1232.7V1238.5" stroke="#000" stroke-width="1.4"/>
 <text x="104.5" y="816.5" class="ytl">2.5</text>
 <text x="104.5" y="855.1" class="ytl">2.0</text>
 <text x="104.5" y="893.7" class="ytl">1.5</text>
 <text x="104.5" y="932.2" class="ytl">1.0</text>
 <text x="104.5" y="970.8" class="ytl">0.5</text>
 <text x="104.5" y="1009.4" class="ytl">0.0</text>
 <text x="104.5" y="1048" class="ytl">−0.5</text>
 <text x="104.5" y="1086.6" class="ytl">−1.0</text>
 <text x="104.5" y="1125.2" class="ytl">−1.5</text>
 <text x="104.5" y="1163.7" class="ytl">−2.0</text>
 <text x="104.5" y="1202.3" class="ytl">−2.5</text>
 <text x="104.5" y="1240.9" class="ytl">−3.0</text>
 <text x="184.7" y="1268" class="xtl">1988.DJF</text>
 <text x="382.8" y="1268" class="xtl">1988.MAM</text>
 <text x="580.8" y="1268" class="xtl">1988.JJA</text>
 <text x="778.9" y="1268" class="xtl">1988.SON</text>
 <text x="547.9" y="1297" class="xtl">Year.mon</text>
 <text x="40" y="1020.5" class="xtl" transform="rotate(-90 40 1020.5)">Nino3.4</text>
 <rect x="519" y="819.3" width="446.3" height="40" rx="4" fill="#fbfbfb" stroke="#d4d4d4" stroke-width="1"/>
 <path d="M526,839.3H575" stroke="#000" stroke-width="3.6"/>
 <text x="593" y="847" class="lg">Observation</text>
 <path d="M779,839.3H827" stroke="#ff3a12" stroke-width="1.7"/>
 <circle cx="803" cy="839.3" r="3.6" fill="#ff3a12"/>
 <text x="845" y="847" class="lg">Prediction</text>
</g>

<!-- ============ PANEL C ============ -->
<g>
 <rect x="1138.7" y="808.3" width="858.3" height="154.3" fill="#ebebeb"/>
 <rect x="1138.7" y="1039.8" width="858.3" height="192.9" fill="#ebebeb"/>
 <path d="M1138.7,846.9H1997M1138.7,885.5H1997M1138.7,924H1997M1138.7,962.6H1997M1138.7,1039.8H1997M1138.7,1078.4H1997M1138.7,1117H1997M1138.7,1155.5H1997M1138.7,1194.1H1997" stroke="#000" stroke-opacity="0.055" stroke-width="3"/>
 <path d="M1204.7,808.3V1232.7M1402.8,808.3V1232.7M1600.8,808.3V1232.7M1798.9,808.3V1232.7" stroke="#000" stroke-opacity="0.05" stroke-width="2.5"/>
 <path d="M1138.7,1001.2H1997" stroke="#4a4a4a" stroke-width="2"/>
 <polyline points="1204.7,995 1270.7,1037.5 1336.8,1106.9 1402.8,1120 1468.8,1130.1 1534.8,1123.1 1600.8,1100.7 1666.9,1161.7 1732.9,1185.6 1798.9,1174 1864.9,1160.1 1930.9,1110" fill="none" stroke="#000" stroke-width="3.6" stroke-linejoin="round"/>
 <polyline points="1204.7,997.3 1270.7,1018.9 1336.8,1022 1402.8,1022.8 1468.8,1022.8 1534.8,1031.3 1600.8,1058.3 1666.9,1077.6 1732.9,1090.7 1798.9,1099.9 1864.9,1113.1 1930.9,1127.7" fill="none" stroke="#ff3a12" stroke-width="1.7" stroke-linejoin="round"/>
 <g fill="#ff3a12">
  <circle cx="1204.7" cy="997.3" r="3.6"/><circle cx="1270.7" cy="1018.9" r="3.6"/><circle cx="1336.8" cy="1022" r="3.6"/><circle cx="1402.8" cy="1022.8" r="3.6"/><circle cx="1468.8" cy="1022.8" r="3.6"/><circle cx="1534.8" cy="1031.3" r="3.6"/><circle cx="1600.8" cy="1058.3" r="3.6"/><circle cx="1666.9" cy="1077.6" r="3.6"/><circle cx="1732.9" cy="1090.7" r="3.6"/><circle cx="1798.9" cy="1099.9" r="3.6"/><circle cx="1864.9" cy="1113.1" r="3.6"/><circle cx="1930.9" cy="1127.7" r="3.6"/>
 </g>
 <rect x="1138.7" y="808.3" width="858.3" height="424.4" fill="none" stroke="#000" stroke-width="1.6"/>
 <path d="M1133,808.3H1138.7M1133,846.9H1138.7M1133,885.5H1138.7M1133,924H1138.7M1133,962.6H1138.7M1133,1001.2H1138.7M1133,1039.8H1138.7M1133,1078.4H1138.7M1133,1117H1138.7M1133,1155.5H1138.7M1133,1194.1H1138.7M1133,1232.7H1138.7M1204.7,1232.7V1238.5M1402.8,1232.7V1238.5M1600.8,1232.7V1238.5M1798.9,1232.7V1238.5M1997,1232.7V1238.5" stroke="#000" stroke-width="1.4"/>
 <text x="1124.5" y="816.5" class="ytl">2.5</text>
 <text x="1124.5" y="855.1" class="ytl">2.0</text>
 <text x="1124.5" y="893.7" class="ytl">1.5</text>
 <text x="1124.5" y="932.2" class="ytl">1.0</text>
 <text x="1124.5" y="970.8" class="ytl">0.5</text>
 <text x="1124.5" y="1009.4" class="ytl">0.0</text>
 <text x="1124.5" y="1048" class="ytl">−0.5</text>
 <text x="1124.5" y="1086.6" class="ytl">−1.0</text>
 <text x="1124.5" y="1125.2" class="ytl">−1.5</text>
 <text x="1124.5" y="1163.7" class="ytl">−2.0</text>
 <text x="1124.5" y="1202.3" class="ytl">−2.5</text>
 <text x="1124.5" y="1240.9" class="ytl">−3.0</text>
 <text x="1204.7" y="1268" class="xtl">1988.FMA</text>
 <text x="1402.8" y="1268" class="xtl">1988.MJJ</text>
 <text x="1600.8" y="1268" class="xtl">1988.ASO</text>
 <text x="1798.9" y="1268" class="xtl">1988.NDJ</text>
 <text x="1567.9" y="1297" class="xtl">Year.mon</text>
 <text x="1060" y="1020.5" class="xtl" transform="rotate(-90 1060 1020.5)">Nino3.4</text>
 <rect x="1539" y="819.3" width="446.3" height="40" rx="4" fill="#fbfbfb" stroke="#d4d4d4" stroke-width="1"/>
 <path d="M1546,839.3H1595" stroke="#000" stroke-width="3.6"/>
 <text x="1613" y="847" class="lg">Observation</text>
 <path d="M1799,839.3H1847" stroke="#ff3a12" stroke-width="1.7"/>
 <circle cx="1823" cy="839.3" r="3.6" fill="#ff3a12"/>
 <text x="1865" y="847" class="lg">Prediction</text>
</g>
</svg>
</body></html>
